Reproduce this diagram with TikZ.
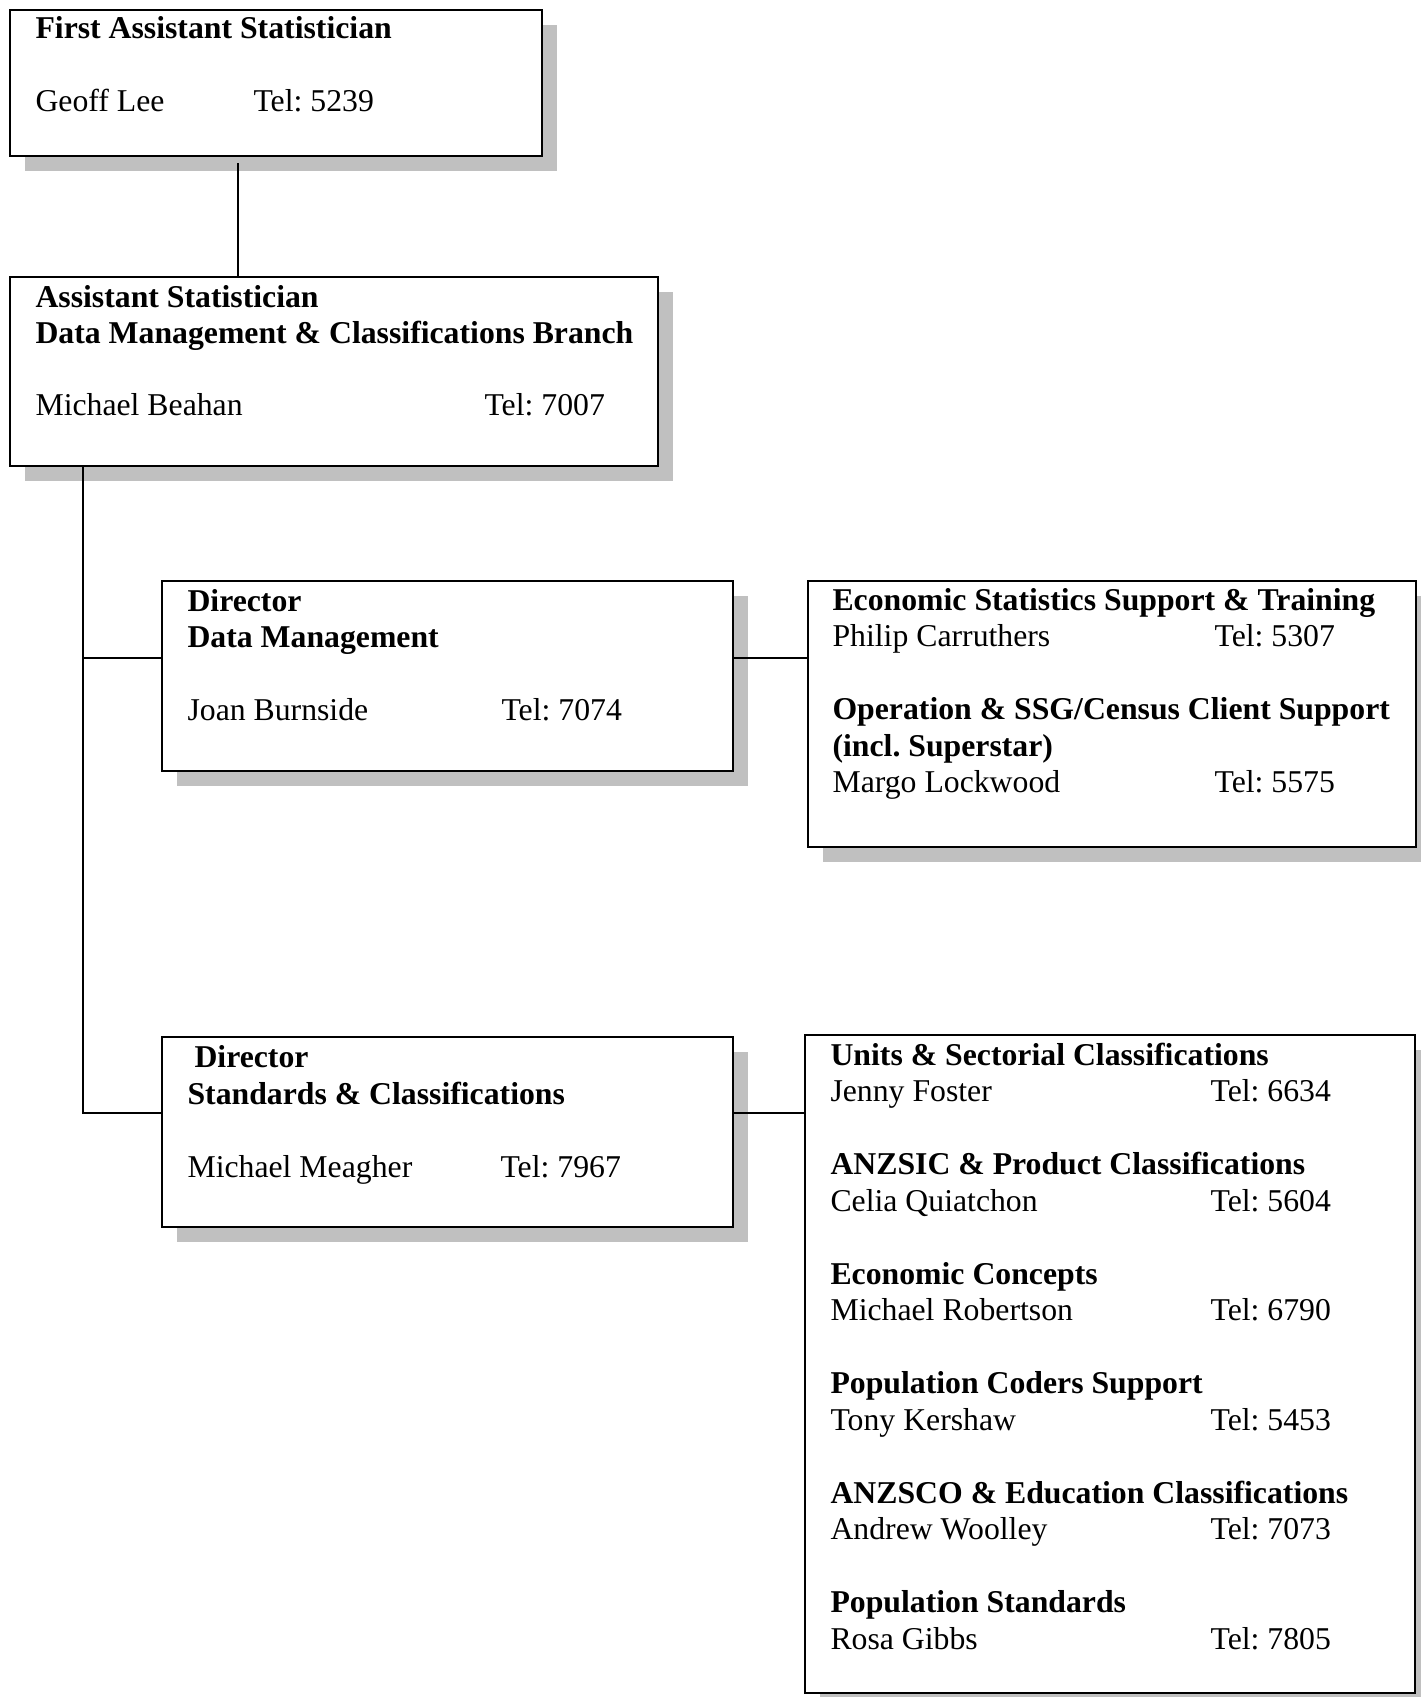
\documentclass[tikz,border=0pt]{standalone}
\usepackage{fontspec}
\setmainfont{Liberation Serif}
\usetikzlibrary{fit,shadows}
\definecolor{shgray}{RGB}{192,192,192}
\frenchspacing
\begin{document}
\begin{tikzpicture}[x=0.378pt,y=-0.378pt,
  box/.style={draw=black, line width=0.75pt, fill=white, inner sep=0pt,
    drop shadow={shadow xshift=5.7pt, shadow yshift=-5.7pt, fill=shgray, opacity=1}},
  lbl/.style={anchor=base west, inner sep=0pt, font=\fontsize{12pt}{13.8pt}\selectfont},
  hd/.style={anchor=base west, inner sep=0pt, font=\fontsize{12pt}{13.8pt}\selectfont\bfseries},
  conn/.style={line width=0.55pt}]
\useasboundingbox (0,0) rectangle (1421,1697);

% boxes
\node[box, fit={(10,10) (542,156)}] (b1) {};
\node[box, fit={(10,277) (658,466)}] (b2) {};
\node[box, fit={(162,581) (733,771)}] (b3) {};
\node[box, fit={(808,581) (1416,847)}] (b4) {};
\node[box, fit={(162,1037) (733,1227)}] (b5) {};
\node[box, fit={(805,1035) (1415,1693)}] (b6) {};

% box 1
\node[hd] (t1a) at (35,39) {First Assistant Statistician};
\node[lbl] (t1b) at (35,111) {Geoff Lee};
\node[lbl] (t1c) at (253,111) {Tel:\ 5239};

% box 2
\node[hd] (t2a) at (35,307) {Assistant Statistician};
\node[hd] (t2b) at (35,343) {Data Management \& Classifications Branch};
\node[lbl] (t2c) at (35,415) {Michael Beahan};
\node[lbl] (t2d) at (484,415) {Tel:\ 7007};

% box 3
\node[hd] (t3a) at (187,611) {Director};
\node[hd] (t3b) at (187,647) {Data Management};
\node[lbl] (t3c) at (187,720) {Joan Burnside};
\node[lbl] (t3d) at (501,720) {Tel:\ 7074};

% box 4
\node[hd] (t4a) at (832,610) {Economic Statistics Support \& Training};
\node[lbl] (t4b) at (832,646.5) {Philip Carruthers};
\node[lbl] (t4c) at (1214,646.5) {Tel:\ 5307};
\node[hd] (t4d) at (832,719.5) {Operation \& SSG/Census Client Support};
\node[hd] (t4e) at (832,756) {(incl.\ Superstar)};
\node[lbl] (t4f) at (832,792.5) {Margo Lockwood};
\node[lbl] (t4g) at (1214,792.5) {Tel:\ 5575};

% box 5
\node[hd] (t5a) at (194,1067) {Director};
\node[hd] (t5b) at (187,1104) {Standards \& Classifications};
\node[lbl] (t5c) at (187,1177) {Michael Meagher};
\node[lbl] (t5d) at (500,1177) {Tel:\ 7967};

% box 6
\node[hd] (t6a) at (830,1065) {Units \& Sectorial Classifications};
\node[lbl] (t6b) at (830,1101.5) {Jenny Foster};
\node[lbl] (t6c) at (1210,1101.5) {Tel:\ 6634};
\node[hd] (t6d) at (830,1174.5) {ANZSIC \& Product Classifications};
\node[lbl] (t6e) at (830,1211) {Celia Quiatchon};
\node[lbl] (t6f) at (1210,1211) {Tel:\ 5604};
\node[hd] (t6g) at (830,1284) {Economic Concepts};
\node[lbl] (t6h) at (830,1320.5) {Michael Robertson};
\node[lbl] (t6i) at (1210,1320.5) {Tel:\ 6790};
\node[hd] (t6j) at (830,1393.5) {Population Coders Support};
\node[lbl] (t6k) at (830,1430) {Tony Kershaw};
\node[lbl] (t6l) at (1210,1430) {Tel:\ 5453};
\node[hd] (t6m) at (830,1503) {ANZSCO \& Education Classifications};
\node[lbl] (t6n) at (830,1539.5) {Andrew Woolley};
\node[lbl] (t6o) at (1210,1539.5) {Tel:\ 7073};
\node[hd] (t6p) at (830,1612.5) {Population Standards};
\node[lbl] (t6q) at (830,1649) {Rosa Gibbs};
\node[lbl] (t6r) at (1210,1649) {Tel:\ 7805};

% connectors
\coordinate (c1) at (238,163);
\draw[conn] (c1) -- (c1 |- b2.north);
\coordinate (tr) at (83,466);
\coordinate (j1) at (83,658);
\coordinate (j2) at (83,1113);
\draw[conn] (tr) -- (j2) -- (j2 -| b5.west);
\draw[conn] (j1) -- (j1 -| b3.west);
\draw[conn] (j1 -| b3.east) -- (j1 -| b4.west);
\draw[conn] (j2 -| b5.east) -- (j2 -| b6.west);
\end{tikzpicture}
\end{document}
